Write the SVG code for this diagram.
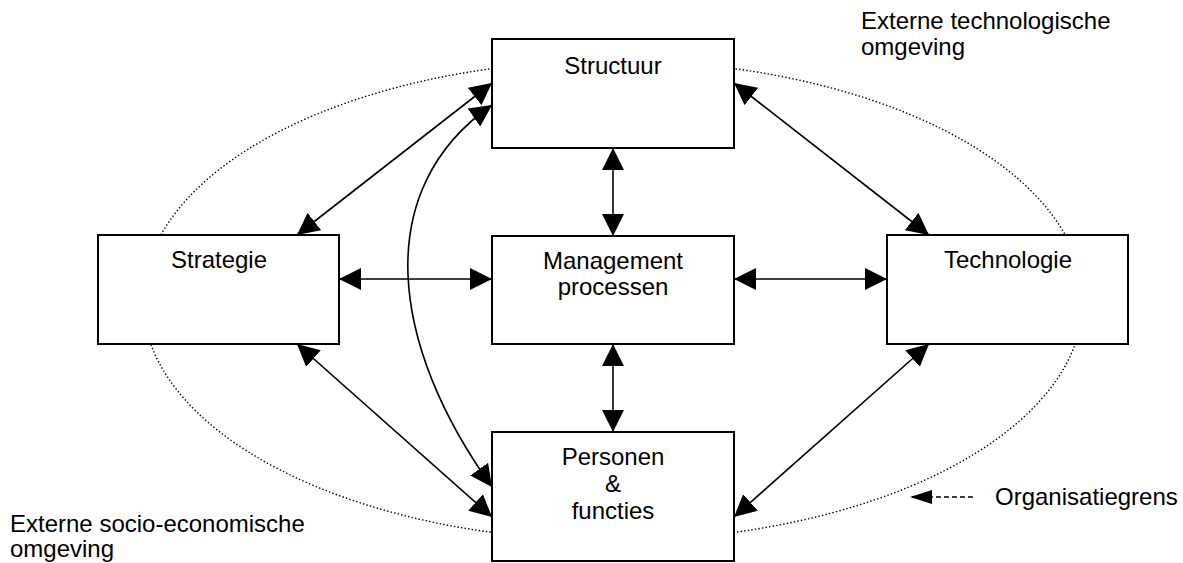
<svg xmlns="http://www.w3.org/2000/svg" width="1183" height="563" viewBox="0 0 1183 563">
<style>
  .box { fill: #fff; stroke: #000; stroke-width: 2; }
  .lbl { font-family: "Liberation Sans", Arial, sans-serif; font-size: 24px; fill: #000; }
  .c { text-anchor: middle; }
  .ln { fill: none; stroke: #000; stroke-width: 1.6; marker-start: url(#ah); marker-end: url(#ah); }
  .orbit { fill: none; stroke: #000; stroke-width: 1.4; stroke-dasharray: 1.4 2.2; }
</style>
<defs>
  <marker id="ah" markerUnits="userSpaceOnUse" markerWidth="22" markerHeight="22" viewBox="0 0 20 20" refX="20" refY="10" orient="auto-start-reverse">
    <path d="M0,0 L20,10 L0,20 Z" fill="#000"/>
  </marker>
  <marker id="ah2" markerUnits="userSpaceOnUse" markerWidth="22" markerHeight="16" viewBox="0 0 22 14" refX="22" refY="7" orient="auto">
    <path d="M0,0 L22,7 L0,14 Z" fill="#000"/>
  </marker>
</defs>

<g id="boundary">
  <ellipse class="orbit" cx="613" cy="300.5" rx="470" ry="240"/>
</g>

<g id="connectors">
  <line class="ln" x1="339" y1="279" x2="492" y2="279"/>
  <line class="ln" x1="734" y1="279" x2="887" y2="279"/>
  <line class="ln" x1="613" y1="148" x2="613" y2="236"/>
  <line class="ln" x1="613" y1="344" x2="613" y2="432"/>
  <line class="ln" x1="297" y1="235" x2="492" y2="83"/>
  <line class="ln" x1="929" y1="235" x2="734" y2="83"/>
  <line class="ln" x1="297" y1="344" x2="492" y2="517"/>
  <line class="ln" x1="929" y1="344" x2="734" y2="517"/>
  <path class="ln" d="M492,105 C370,190 390,345 492,487"/>
  <line x1="973" y1="497" x2="910" y2="497" stroke="#000" stroke-width="1.3" stroke-dasharray="5 3" marker-end="url(#ah2)"/>
</g>

<g id="structuur">
  <rect class="box" x="492" y="39" width="242" height="109"/>
  <text class="lbl c" x="613" y="74">Structuur</text>
</g>
<g id="strategie">
  <rect class="box" x="98" y="235" width="241" height="109"/>
  <text class="lbl c" x="219" y="268">Strategie</text>
</g>
<g id="management">
  <rect class="box" x="492" y="236" width="242" height="108"/>
  <text class="lbl c" x="613" y="269">Management</text>
  <text class="lbl c" x="613" y="295">processen</text>
</g>
<g id="technologie">
  <rect class="box" x="887" y="235" width="241" height="109"/>
  <text class="lbl c" x="1008" y="268">Technologie</text>
</g>
<g id="personen">
  <rect class="box" x="492" y="432" width="242" height="129"/>
  <text class="lbl c" x="613" y="465">Personen</text>
  <text class="lbl c" x="613" y="492">&amp;</text>
  <text class="lbl c" x="613" y="519">functies</text>
</g>

<g id="labels">
  <text class="lbl" x="861" y="29">Externe technologische</text>
  <text class="lbl" x="861" y="55">omgeving</text>
  <text class="lbl" x="10" y="532">Externe socio-economische</text>
  <text class="lbl" x="10" y="557">omgeving</text>
  <text class="lbl" x="995" y="505">Organisatiegrens</text>
</g>
</svg>
